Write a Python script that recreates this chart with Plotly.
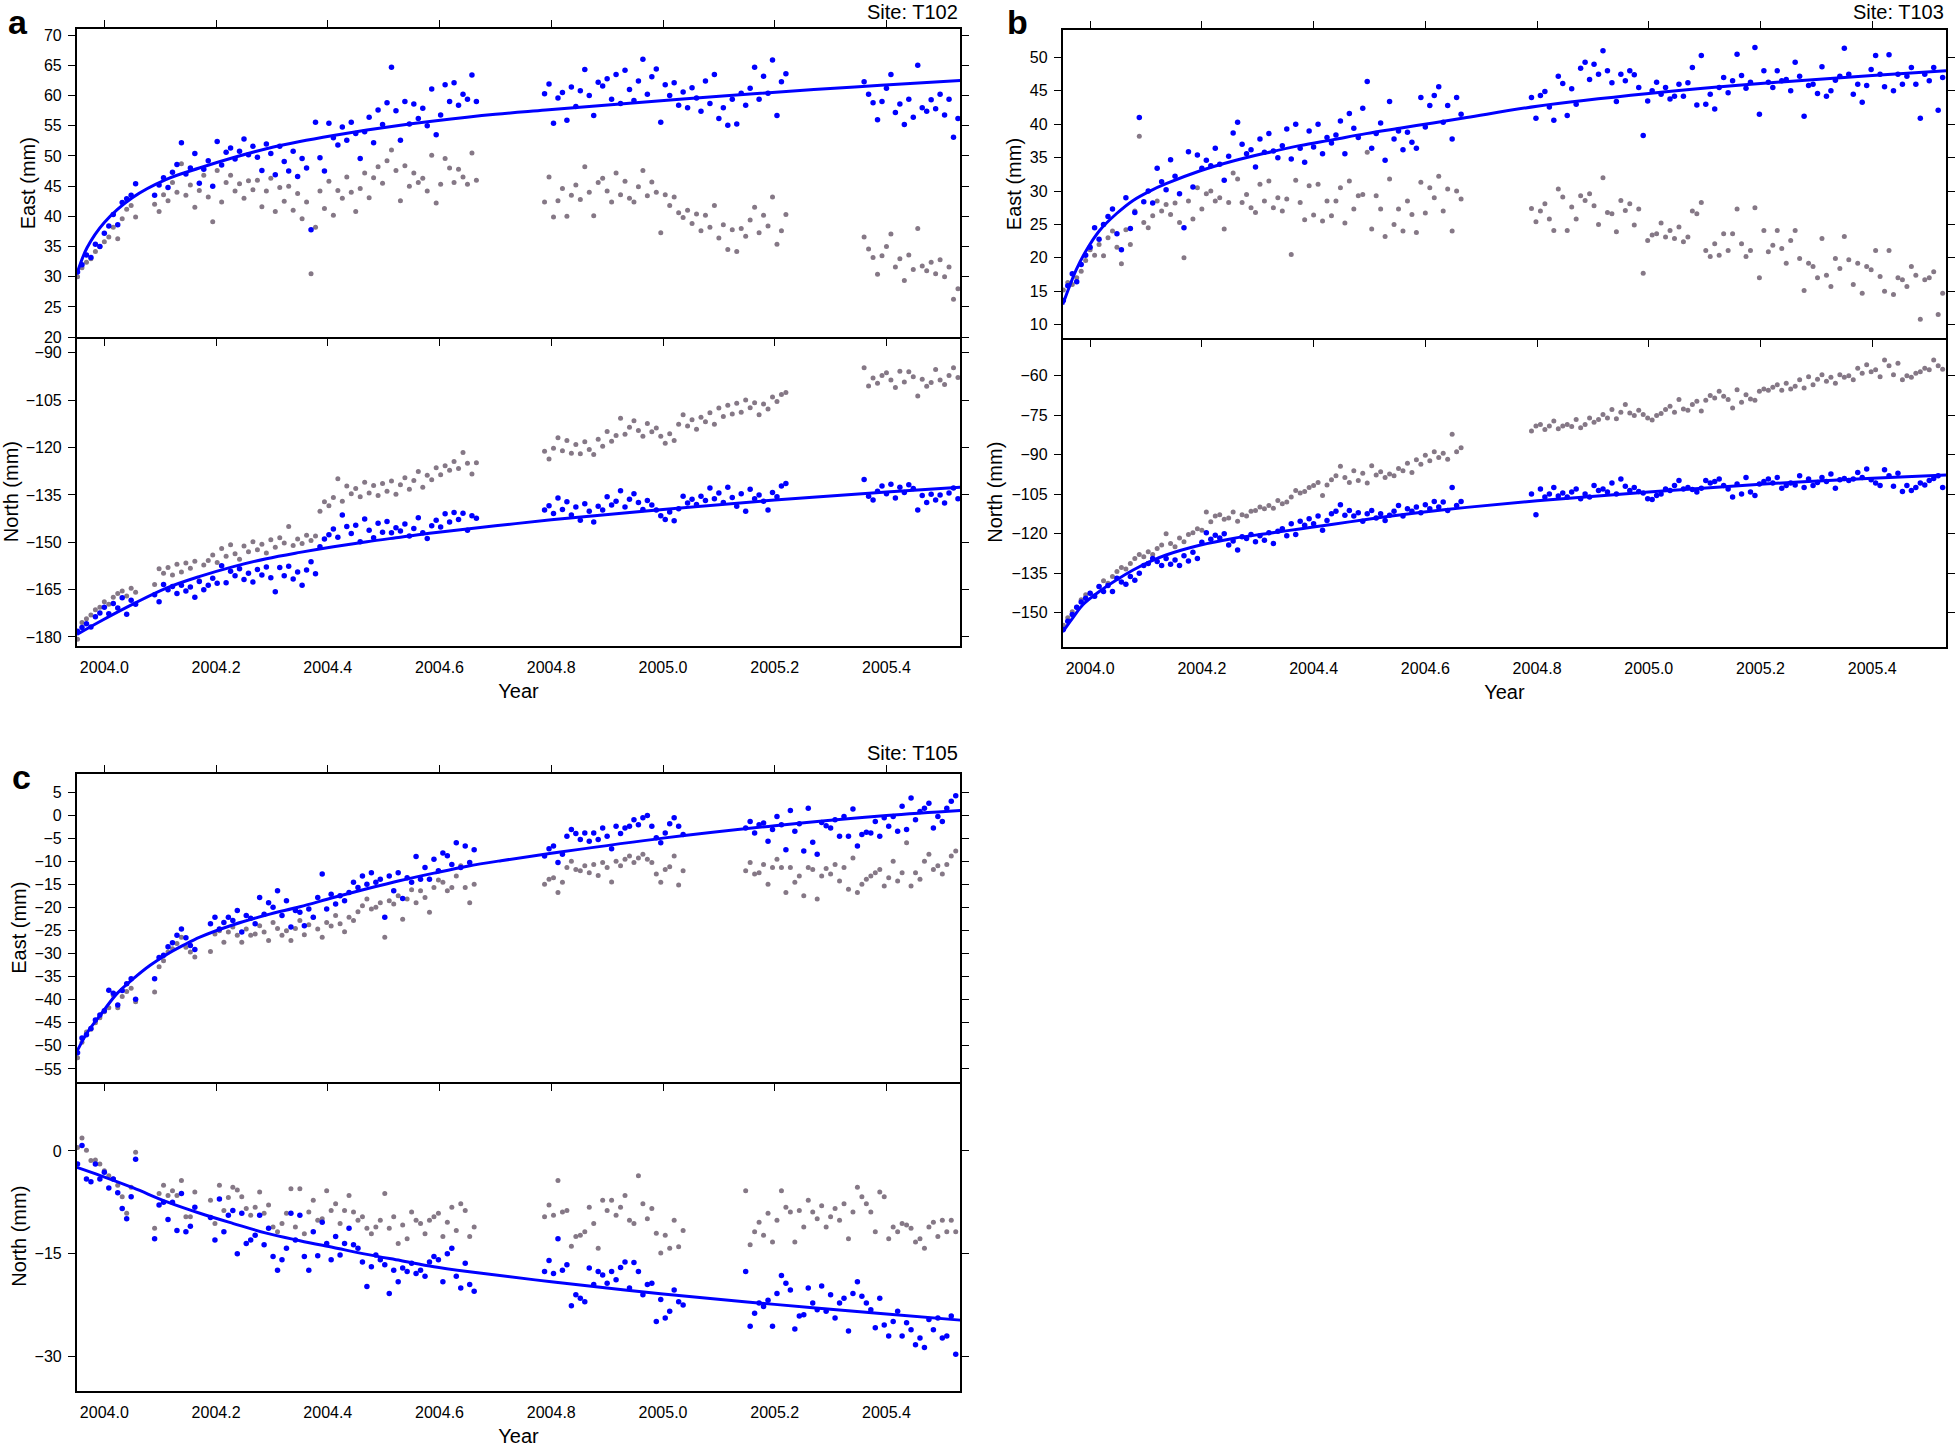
import plotly.graph_objects as go

# ---------------------------------------------------------------- data
STEP = 0.008  # spacing (yr) of the plotted daily-solution epochs inside each segment
X_RANGE = [2003.951, 2005.532]
X_TICKS = [2004.0, 2004.2, 2004.4, 2004.6, 2004.8, 2005.0, 2005.2, 2005.4]
X_TICKTEXT = ["2004.0", "2004.2", "2004.4", "2004.6", "2004.8", "2005.0", "2005.2", "2005.4"]

# ---- Site T102 (panel a)
A_SEG_START = [2003.952, 2004.090, 2004.788, 2005.360]
A_E_BLUE = [
    [30.8, 32.0, 33.6, 33.2, 35.4, 35.0, 37.2, 38.4, 40.3, 38.6, 42.3, 42.9, 43.5, 45.4],
    [43.5, 45.2, 46.4, 44.8, 47.3, 48.6, 52.2, 47.0, 48.0, 50.4, 45.5, 47.8, 49.2, 45.0, 52.4, 48.5, 50.6, 51.3, 49.5, 50.8,
     52.8, 50.2, 51.6, 49.8, 47.6, 52.0, 50.4, 46.9, 51.6, 49.1, 47.5, 50.8, 46.6, 49.6, 48.0, 37.8, 55.6, 49.7, 47.5, 55.4,
     53.0, 51.8, 54.8, 52.6, 55.6, 53.7, 49.6, 54.0, 56.4, 52.2, 57.6, 55.2, 58.8, 64.7, 57.5, 52.6, 59.0, 55.3, 58.6, 56.2,
     57.9, 55.0, 61.1, 53.5, 56.8, 61.8, 59.0, 62.1, 58.4, 60.2, 59.4, 63.4, 59.0],
    [60.3, 61.9, 55.4, 59.6, 60.5, 55.9, 61.4, 58.2, 60.8, 64.3, 60.0, 56.7, 62.2, 61.6, 62.8, 59.4, 63.5, 58.7, 64.2, 61.0,
     59.2, 62.4, 66.0, 60.2, 63.1, 64.4, 55.6, 61.8, 60.0, 62.1, 58.4, 60.6, 58.0, 61.3, 59.6, 57.4, 62.4, 58.7, 63.5, 56.2,
     58.0, 55.1, 59.4, 55.3, 60.4, 58.4, 61.2, 64.7, 59.4, 63.2, 60.4, 65.9, 56.7, 62.3, 63.6],
    [62.3, 60.2, 58.8, 56.0, 59.0, 61.2, 63.5, 57.2, 58.6, 55.2, 59.4, 56.4, 65.0, 58.0, 57.4, 59.3, 57.8, 60.2, 56.8, 59.4,
     53.1, 56.2],
]
A_E_GRAY = [
    [30.0, 31.5, 32.4, 33.0, 34.2, 35.0, 35.8, 36.6, 38.2, 36.3, 39.6, 41.2, 41.8, 39.9],
    [42.0, 40.8, 43.6, 42.6, 45.6, 44.0, 48.7, 43.5, 45.2, 41.5, 44.3, 46.8, 43.2, 39.1, 47.6, 42.4, 45.6, 46.8, 44.2, 45.4,
     43.0, 45.9, 44.4, 46.0, 41.6, 44.2, 46.3, 40.8, 44.8, 42.5, 45.0, 41.0, 43.8, 39.6, 42.4, 30.5, 38.2, 44.2, 41.3, 45.8,
     40.2, 44.3, 43.0, 46.5, 44.0, 40.8, 44.6, 47.2, 43.1, 46.4, 48.2, 45.5, 49.2, 51.0, 47.6, 42.6, 48.4, 45.0, 47.2, 45.6,
     46.3, 44.2, 50.1, 42.2, 45.3, 49.6, 48.0, 45.6, 47.8, 46.5, 45.3, 50.5, 46.0],
    [42.4, 46.5, 39.9, 42.6, 44.6, 40.0, 43.5, 45.2, 42.8, 48.2, 44.0, 40.1, 45.6, 46.3, 44.2, 42.4, 47.2, 43.6, 45.8, 43.0,
     42.4, 44.9, 47.6, 43.4, 45.7, 44.0, 37.3, 43.6, 41.8, 43.2, 40.6, 39.8, 41.0, 38.8, 40.4, 37.6, 40.2, 38.2, 41.8, 36.4,
     38.6, 34.5, 37.8, 34.2, 38.0, 36.7, 39.4, 41.5, 37.3, 40.2, 38.4, 43.2, 35.4, 37.6, 40.3],
    [36.6, 34.6, 33.2, 30.4, 33.5, 35.0, 37.1, 31.6, 33.0, 29.4, 33.6, 31.2, 38.0, 31.8, 31.0, 32.4, 30.5, 32.8, 30.0, 31.6,
     26.3, 28.0],
]
A_N_BLUE = [
    [-178.2, -177.0, -175.8, -176.8, -173.6, -172.4, -170.6, -172.6, -169.4, -170.8, -167.6, -172.8, -168.4, -169.6],
    [-166.6, -168.8, -163.4, -165.0, -164.0, -166.2, -163.6, -165.4, -164.2, -167.4, -162.4, -165.0, -163.6, -161.4, -163.0,
     -157.4, -162.8, -159.2, -160.6, -158.4, -161.8, -159.8, -162.6, -158.6, -160.4, -157.8, -161.2, -165.7, -158.0, -160.6,
     -157.6, -161.6, -159.4, -163.6, -158.8, -156.2, -160.0, -151.4, -149.0, -147.6, -145.8, -148.4, -141.4, -145.0, -147.2,
     -144.6, -149.8, -142.6, -146.2, -148.6, -144.0, -146.8, -143.4, -147.0, -145.4, -146.4, -144.2, -148.0, -145.6, -142.2,
     -147.0, -148.8, -144.8, -143.0, -145.2, -141.0, -143.6, -140.6, -142.8, -140.8, -146.2, -141.6, -142.4],
    [-139.8, -138.4, -140.9, -136.0, -139.6, -137.2, -141.4, -138.8, -143.0, -137.8, -140.2, -143.6, -138.6, -139.8, -135.6,
     -138.2, -137.0, -133.7, -138.8, -136.4, -134.6, -137.4, -139.6, -136.8, -138.2, -139.8, -141.6, -142.8, -140.4, -143.2,
     -139.4, -135.4, -137.6, -136.4, -138.0, -135.4, -136.8, -132.8, -136.2, -134.4, -137.4, -132.6, -135.8, -138.6, -134.6,
     -140.2, -133.2, -136.2, -135.0, -137.0, -139.8, -134.2, -135.6, -132.2, -131.4],
    [-130.1, -135.4, -136.6, -133.8, -132.2, -134.6, -131.6, -136.0, -132.6, -134.2, -131.8, -133.0, -139.8, -135.2, -137.4,
     -134.8, -136.6, -135.0, -137.6, -134.4, -132.8, -136.2],
]
A_N_GRAY = [
    [-180.7, -175.4, -174.2, -173.0, -171.4, -170.6, -168.8, -169.6, -167.4, -166.2, -165.4, -167.0, -164.6, -165.8],
    [-163.4, -158.4, -159.8, -158.0, -160.4, -157.0, -159.4, -156.6, -158.2, -156.0, -162.2, -157.2, -155.8, -154.0, -156.4,
     -152.0, -154.4, -150.8, -153.6, -155.4, -151.2, -153.0, -149.8, -152.4, -150.6, -153.4, -149.2, -151.6, -148.6, -150.2,
     -145.0, -151.0, -149.0, -150.4, -147.8, -149.4, -148.0, -140.2, -137.2, -138.4, -135.8, -129.9, -137.0, -132.2, -134.6,
     -133.0, -135.6, -131.0, -134.4, -132.0, -135.2, -131.4, -133.8, -130.6, -134.8, -131.8, -129.6, -133.2, -130.4, -127.6,
     -132.6, -128.8, -130.2, -126.4, -128.6, -125.8, -127.2, -124.4, -126.6, -121.6, -125.0, -128.4, -124.8],
    [-121.2, -123.6, -120.2, -116.9, -121.0, -117.8, -121.8, -119.0, -122.0, -118.2, -120.6, -122.2, -117.4, -119.6, -114.9,
     -118.0, -116.2, -110.7, -115.8, -113.6, -111.5, -114.6, -116.4, -112.4, -115.0, -113.8, -116.4, -118.6, -115.6, -117.8,
     -112.6, -109.6, -113.2, -111.2, -114.2, -110.4, -111.8, -109.0, -112.6, -107.5, -110.2, -106.6, -109.4, -106.0, -108.8,
     -104.9, -107.4, -105.8, -109.6, -106.2, -107.8, -104.0, -105.4, -103.2, -102.6],
    [-94.7, -100.5, -98.0, -99.6, -97.2, -96.3, -98.6, -101.0, -95.8, -99.2, -96.0, -97.6, -103.7, -98.4, -100.6, -99.4,
     -95.3, -98.6, -100.0, -97.2, -94.7, -97.8],
]
A_E_FIT_T = [2003.951, 2003.969, 2004.0, 2004.05, 2004.11, 2004.17, 2004.23, 2004.29, 2004.35, 2004.41, 2004.47,
             2004.53, 2004.59, 2004.70, 2004.79, 2005.03, 2005.27, 2005.39, 2005.532]
A_E_FIT = [30.5, 34.8, 39.0, 43.1, 46.1, 48.0, 49.7, 51.2, 52.4, 53.4, 54.3, 55.1, 55.8, 56.9, 57.6, 59.4, 61.0, 61.7, 62.5]
A_N_FIT_T = [2003.951, 2003.993, 2004.052, 2004.111, 2004.171, 2004.231, 2004.29, 2004.35, 2004.41, 2004.47, 2004.53,
             2004.59, 2004.70, 2004.80, 2005.0, 2005.2, 2005.4, 2005.532]
A_N_FIT = [-179.2, -175.0, -169.5, -164.5, -160.8, -157.7, -155.2, -153.2, -151.4, -149.8, -148.4, -147.0, -144.8, -142.9,
           -139.6, -136.6, -134.1, -132.6]

# ---- Site T103 (panel b)
B_SEG_START = [2003.952, 2004.790]
B_E_BLUE = [
    [13.6, 15.8, 17.6, 16.4, 19.0, 20.4, 21.6, 24.5, 22.8, 25.0, 26.2, 27.3, 23.6, 21.2, 29.0, 24.4, 26.8, 41.0, 28.4, 30.0,
     28.2, 33.4, 31.4, 30.2, 34.7, 32.2, 29.6, 24.5, 35.9, 30.6, 35.4, 33.4, 34.6, 33.8, 36.4, 34.0, 31.6, 35.2, 38.7, 40.3,
     37.0, 35.6, 36.2, 33.6, 37.8, 35.8, 38.6, 36.0, 35.0, 36.8, 39.3, 34.8, 40.0, 36.4, 34.3, 39.0, 36.6, 40.0, 35.6, 38.0,
     37.2, 38.4, 40.5, 35.6, 41.6, 39.4, 38.0, 42.4, 46.4, 36.4, 38.6, 40.2, 34.6, 43.4, 37.8, 39.0, 36.2, 38.8, 37.3, 36.4,
     44.0, 39.6, 42.8, 44.3, 45.6, 40.3, 42.8, 37.8, 44.0, 41.5],
    [44.0, 40.9, 44.3, 44.9, 42.6, 40.6, 47.2, 46.1, 41.3, 45.3, 43.0, 48.4, 49.3, 46.7, 49.0, 47.5, 51.0, 48.0, 46.2, 43.4,
     47.5, 46.5, 48.0, 47.4, 45.5, 38.3, 43.5, 45.0, 46.3, 44.5, 45.5, 43.8, 44.2, 46.0, 44.2, 46.2, 48.5, 42.9, 50.3, 43.0,
     44.5, 42.3, 45.5, 47.0, 44.7, 46.5, 50.5, 47.3, 45.4, 46.3, 51.5, 41.5, 48.0, 46.3, 45.5, 48.0, 46.5, 46.7, 45.0, 49.3,
     47.2, 41.2, 45.8, 46.0, 44.6, 48.6, 44.2, 45.0, 46.6, 47.2, 51.4, 47.5, 44.5, 46.0, 43.3, 45.8, 48.2, 50.3, 47.5, 45.6,
     50.4, 45.0, 47.5, 46.0, 47.2, 48.5, 46.0, 40.9, 47.5, 46.5, 48.5, 42.1, 47.0],
]
B_E_GRAY = [
    [15.2, 16.3, 16.0, 17.0, 18.0, 19.6, 21.2, 20.4, 22.0, 20.3, 23.0, 24.0, 21.6, 19.1, 24.2, 22.0, 27.0, 38.2, 25.3, 24.5,
     26.3, 28.5, 27.0, 28.0, 26.5, 28.2, 25.3, 20.0, 28.5, 25.8, 30.5, 27.3, 29.6, 30.0, 28.5, 29.0, 24.3, 28.3, 32.7, 31.8,
     28.3, 29.5, 27.5, 26.8, 31.0, 28.5, 31.5, 27.5, 29.0, 27.0, 28.8, 20.5, 31.6, 28.3, 25.7, 30.8, 26.4, 31.0, 25.5, 28.5,
     26.3, 28.5, 30.5, 25.2, 31.5, 27.3, 29.3, 29.5, 35.8, 24.3, 29.3, 27.3, 23.2, 31.8, 25.0, 27.3, 24.0, 28.5, 26.5, 23.8,
     31.3, 26.7, 30.5, 29.0, 32.2, 27.0, 30.3, 24.0, 30.0, 28.8],
    [27.4, 25.4, 27.0, 28.1, 25.8, 24.1, 30.3, 29.1, 24.1, 27.6, 25.8, 29.3, 28.6, 29.6, 27.8, 25.0, 32.0, 26.8, 26.6, 23.9,
     28.6, 27.1, 28.1, 24.9, 27.3, 17.7, 22.6, 23.4, 23.6, 25.2, 23.1, 24.1, 22.9, 24.6, 22.4, 23.1, 27.0, 26.6, 28.3, 21.1,
     20.2, 22.1, 20.4, 23.6, 21.1, 23.6, 27.3, 22.1, 20.2, 21.1, 27.5, 17.0, 24.1, 20.9, 21.9, 24.1, 21.4, 19.2, 22.6, 24.1,
     19.9, 15.1, 19.2, 18.7, 17.0, 22.9, 17.4, 15.7, 19.9, 18.4, 23.2, 19.7, 16.0, 19.2, 14.7, 18.7, 18.2, 21.1, 17.2, 15.0,
     21.1, 14.5, 17.0, 16.7, 15.7, 18.7, 17.4, 10.8, 16.7, 17.0, 17.9, 11.5, 14.7],
]
B_N_BLUE = [
    [-156.4, -153.3, -150.7, -148.0, -146.0, -144.5, -142.6, -143.8, -140.1, -142.0, -139.7, -142.0, -136.9, -138.4, -139.2,
     -136.3, -137.7, -135.0, -132.1, -131.3, -129.4, -130.6, -132.1, -129.4, -131.6, -130.0, -132.1, -128.4, -130.4, -127.1,
     -129.4, -123.3, -119.6, -122.1, -120.6, -121.6, -120.0, -124.3, -122.8, -126.2, -121.2, -121.8, -120.3, -123.1, -120.8,
     -122.5, -119.6, -123.7, -119.1, -118.1, -120.8, -116.2, -120.3, -115.3, -116.8, -114.3, -116.2, -113.3, -118.7, -115.0,
     -112.4, -111.5, -109.0, -113.0, -111.2, -113.3, -112.0, -115.3, -112.4, -111.2, -114.0, -112.4, -115.0, -113.0, -111.5,
     -109.3, -113.3, -110.5, -111.5, -109.9, -112.0, -109.0, -110.5, -107.8, -109.9, -108.0, -111.2, -102.4, -109.3, -107.8],
    [-104.9, -112.8, -103.0, -106.1, -104.9, -102.4, -105.7, -104.5, -106.1, -104.2, -103.0, -106.7, -104.9, -106.1, -101.7,
     -103.6, -103.0, -104.2, -100.7, -104.9, -99.2, -102.0, -103.6, -102.4, -104.0, -104.5, -106.7, -107.0, -105.5, -104.9,
     -103.0, -103.6, -101.7, -99.8, -103.0, -102.4, -103.2, -104.2, -102.7, -99.8, -100.7, -100.2, -99.2, -101.7, -103.0,
     -106.1, -101.1, -104.9, -98.6, -104.2, -105.5, -101.1, -100.2, -99.2, -100.7, -98.6, -102.7, -101.7, -100.7, -101.5,
     -98.0, -102.4, -99.2, -101.7, -100.5, -98.6, -100.2, -97.3, -102.7, -99.5, -99.0, -99.8, -99.2, -96.7, -98.6,
     -95.4, -99.5, -100.7, -101.7, -95.7, -98.0, -102.0, -97.0, -104.0, -101.7, -103.6, -102.4, -100.7, -101.5, -99.8,
     -99.0, -98.0, -102.4],
]
B_N_GRAY = [
    [-154.8, -152.0, -149.7, -148.0, -145.1, -143.2, -142.6, -143.8, -140.1, -137.9, -138.8, -136.3, -134.4, -132.9, -133.4,
     -131.3, -129.4, -127.9, -128.8, -126.9, -127.9, -125.6, -124.3, -120.0, -123.7, -125.0, -121.6, -123.1, -120.3, -119.6,
     -118.1, -118.7, -111.8, -115.5, -113.3, -112.8, -114.5, -114.0, -111.8, -115.3, -112.8, -113.3, -111.5, -111.2, -109.9,
     -110.5, -109.3, -110.3, -107.4, -108.6, -108.0, -106.1, -103.6, -104.5, -104.0, -102.4, -101.7, -100.5, -105.5, -101.5,
     -99.5, -98.0, -94.4, -98.6, -100.5, -96.1, -99.8, -97.0, -100.7, -94.2, -97.7, -96.5, -98.6, -97.3, -98.0,
     -95.2, -96.1, -93.2, -96.7, -91.9, -93.6, -90.2, -92.3, -88.9, -91.0, -89.4, -91.7, -82.2, -88.9, -87.3],
    [-81.0, -79.1, -78.5, -80.4, -79.1, -77.2, -80.1, -79.1, -78.5, -79.3, -76.6, -79.7, -78.5, -76.0, -77.6, -76.6, -74.7,
     -76.0, -72.8, -76.3, -73.8, -70.9, -74.1, -75.1, -73.1, -74.7, -76.0, -76.8, -75.1, -74.3, -72.8, -71.6, -73.8, -69.0,
     -72.6, -73.1, -70.9, -69.7, -73.4, -69.3, -67.5, -68.4, -65.9, -67.8, -69.0, -72.2, -65.3, -70.0, -67.2, -68.8, -69.3,
     -65.9, -65.0, -65.5, -64.3, -63.4, -65.5, -62.8, -65.0, -64.0, -61.5, -64.6, -60.3, -63.4, -61.3, -59.6, -62.1, -60.5,
     -62.8, -59.6, -60.5, -60.0, -61.5, -57.1, -59.0, -55.8, -58.4, -57.7, -60.3, -54.0, -56.2, -59.6, -55.2, -61.5, -60.0,
     -60.5, -59.0, -58.4, -57.1, -57.7, -54.0, -56.2, -57.5],
]
B_E_FIT_T = [2003.951, 2003.963, 2003.975, 2003.993, 2004.017, 2004.047, 2004.077, 2004.107, 2004.136, 2004.196, 2004.256,
             2004.315, 2004.375, 2004.435, 2004.494, 2004.554, 2004.614, 2004.674, 2004.8, 2005.0, 2005.2, 2005.4, 2005.532]
B_E_FIT = [13.0, 15.7, 18.2, 21.1, 24.1, 26.6, 28.6, 30.0, 31.1, 33.0, 34.5, 35.7, 36.8, 37.7, 38.6, 39.4, 40.2, 41.0,
           42.7, 44.6, 46.1, 47.3, 48.0]
B_N_FIT_T = [2003.951, 2003.969, 2003.987, 2004.017, 2004.047, 2004.077, 2004.107, 2004.136, 2004.196, 2004.256, 2004.315,
             2004.375, 2004.435, 2004.494, 2004.554, 2004.614, 2004.674, 2004.8, 2005.0, 2005.2, 2005.4, 2005.532]
B_N_FIT = [-157.3, -152.0, -147.0, -141.9, -137.6, -133.8, -130.6, -128.1, -124.4, -121.8, -120.0, -118.2, -116.4, -114.6,
           -112.9, -111.4, -110.0, -107.5, -104.2, -101.2, -98.9, -97.7]

# ---- Site T105 (panel c)
C_SEG_START = [2003.952, 2004.090, 2004.190, 2004.788, 2005.148]
C_E_BLUE = [
    [-51.5, -48.3, -47.6, -46.2, -44.4, -43.3, -42.4, -37.9, -38.6, -41.1, -38.0, -36.5, -35.4, -39.9],
    [-35.4, -30.8, -30.3, -28.5, -27.6, -26.0, -24.6, -26.5, -28.2, -29.1],
    [-23.5, -22.1, -24.6, -23.2, -22.1, -22.8, -20.6, -25.3, -21.7, -22.3, -23.5, -17.8, -21.4, -18.9, -19.9, -16.3, -21.7,
     -18.5, -24.2, -20.6, -21.0, -23.9, -20.3, -22.1, -17.8, -12.7, -20.3, -17.1, -19.2, -17.4, -18.5, -16.7, -14.5, -15.6,
     -13.1, -14.9, -12.4, -14.5, -13.8, -22.1, -13.1, -16.3, -12.4, -18.0, -13.5, -14.5, -8.9, -13.8, -11.3, -13.8, -9.5,
     -12.0, -8.1, -8.7, -10.6, -5.9, -11.3, -6.6, -10.2, -7.4],
    [-8.8, -7.2, -6.6, -10.2, -8.4, -4.5, -3.0, -3.9, -5.2, -3.8, -5.6, -3.8, -5.2, -2.7, -4.5, -7.2, -2.3, -3.9, -2.7,
     -2.3, -0.9, -2.0, -0.5, 0.0, -2.3, -4.8, -5.9, -3.8, -1.8, -0.5, -2.3, -4.1],
    [-2.7, -1.3, -3.8, -2.0, -1.6, -5.6, -3.0, -0.2, -2.0, -7.4, 1.1, -3.4, -1.8, -7.7, 1.6, -5.8, -8.4, -1.5, -2.2, -2.7,
     -0.9, -4.5, -0.2, -4.5, 1.4, -6.6, -4.1, -3.6, -3.8, -1.3, -4.5, -0.5, -2.3, -0.2, -3.4, 2.0, -3.0, 3.8, -0.9, 0.9,
     1.6, 2.7, -2.7, -0.2, -1.3, 1.6, 3.1, 4.3],
]
C_E_GRAY = [
    [-52.6, -49.2, -47.0, -46.4, -45.0, -43.9, -42.6, -41.7, -39.0, -41.7, -39.3, -38.2, -37.5, -40.4],
    [-38.3, -32.8, -31.5, -29.6, -28.9, -27.8, -26.4, -28.6, -29.6, -30.7],
    [-29.5, -25.7, -25.0, -27.5, -25.3, -24.2, -26.0, -27.5, -24.6, -26.0, -25.7, -23.9, -25.3, -27.1, -23.2, -24.5, -26.0,
     -25.0, -27.1, -24.5, -22.8, -25.9, -23.7, -22.1, -24.6, -26.4, -23.2, -24.0, -21.7, -23.5, -25.2, -22.1, -22.8, -20.9,
     -19.6, -18.1, -20.3, -19.9, -18.9, -26.4, -18.5, -19.2, -17.4, -22.5, -18.1, -16.1, -18.9, -16.3, -17.8, -21.0, -15.6,
     -14.0, -14.5, -16.3, -15.6, -13.1, -10.9, -15.6, -18.9, -14.9],
    [-14.9, -13.8, -13.5, -16.7, -14.5, -11.3, -9.9, -11.7, -12.0, -10.9, -12.4, -10.6, -13.0, -10.2, -11.3, -14.4, -9.9,
     -10.9, -9.5, -8.8, -10.2, -9.2, -8.4, -9.5, -10.2, -12.7, -14.5, -11.7, -11.1, -8.8, -15.1, -12.0],
    [-12.0, -10.2, -12.7, -12.4, -10.6, -14.9, -11.3, -9.5, -11.3, -16.7, -11.3, -14.5, -13.1, -17.4, -11.3, -11.7, -18.1,
     -13.1, -11.5, -12.7, -10.6, -14.2, -11.3, -16.0, -9.2, -16.7, -14.9, -13.8, -13.1, -12.4, -11.7, -15.3, -13.5, -9.9,
     -14.2, -12.4, -5.9, -15.3, -12.4, -13.8, -9.9, -8.4, -11.7, -10.9, -12.7, -10.6, -8.8, -7.7],
]
C_N_BLUE = [
    [-1.9, 0.8, -4.1, -4.5, -1.9, -4.1, -3.1, -5.4, -4.1, -6.1, -8.4, -9.9, -6.7, -1.2],
    [-12.8, -7.9, -7.5, -10.0, -7.5, -11.6, -6.2, -11.8, -11.0, -8.2],
    [-9.7, -13.0, -7.0, -11.8, -9.4, -8.7, -15.0, -9.1, -13.5, -13.0, -12.3, -9.4, -13.7, -11.3, -15.4, -17.4, -15.9, -14.2,
     -9.1, -13.0, -9.4, -15.4, -17.4, -11.8, -15.3, -10.4, -13.5, -15.9, -12.5, -15.2, -13.5, -11.3, -13.7, -14.2, -16.2,
     -19.8, -16.9, -15.2, -15.9, -16.6, -20.8, -17.4, -19.1, -17.1, -17.6, -16.4, -17.9, -17.4, -18.3, -16.2, -15.4, -15.9,
     -19.1, -15.0, -14.2, -18.3, -20.0, -16.4, -19.5, -20.5],
    [-17.6, -16.0, -17.9, -12.8, -17.4, -16.6, -22.6, -21.0, -21.5, -22.0, -17.1, -19.5, -17.6, -18.1, -19.3, -17.6, -18.8,
     -17.0, -16.2, -20.0, -16.3, -17.6, -21.0, -19.5, -19.3, -24.9, -21.7, -24.4, -23.4, -20.3, -22.0, -22.5],
    [-17.6, -25.6, -23.7, -22.2, -22.7, -21.8, -25.6, -20.8, -18.2, -19.3, -20.3, -26.0, -24.1, -23.9, -20.0, -22.2, -23.2,
     -19.7, -23.4, -21.0, -24.4, -22.2, -21.5, -26.3, -20.8, -19.1, -21.2, -22.2, -23.2, -25.8, -21.5, -25.4, -27.0, -24.9,
     -23.4, -27.0, -25.1, -26.1, -28.3, -27.3, -28.7, -24.6, -26.1, -24.4, -27.3, -27.0, -24.1, -29.7],
]
C_N_GRAY = [
    [0.5, 1.9, 0.1, -1.4, -1.3, -1.9, -2.9, -3.6, -4.1, -5.0, -6.7, -9.1, -5.3, -0.2],
    [-11.3, -6.2, -5.0, -6.5, -5.8, -6.5, -4.3, -9.6, -9.6, -6.0],
    [-7.2, -10.6, -5.0, -8.7, -6.8, -5.3, -5.7, -6.7, -8.4, -9.4, -8.2, -6.0, -9.1, -7.9, -11.1, -11.8, -10.6, -9.1, -5.5,
     -11.1, -5.5, -12.1, -8.9, -7.2, -10.1, -9.9, -5.8, -8.7, -7.7, -10.6, -8.7, -6.5, -8.9, -10.1, -9.6, -11.3, -12.1,
     -11.1, -10.1, -6.2, -11.3, -9.6, -13.5, -10.8, -12.8, -8.9, -10.1, -10.6, -12.1, -10.1, -9.6, -9.1, -12.5, -10.4, -8.2,
     -11.6, -7.7, -8.7, -12.5, -11.1],
    [-9.6, -7.9, -9.4, -4.3, -8.9, -8.7, -13.9, -12.5, -12.3, -11.8, -8.2, -10.6, -14.2, -7.2, -8.7, -7.2, -9.4, -8.2, -6.5,
     -10.1, -10.6, -3.6, -7.7, -9.9, -8.4, -12.0, -14.9, -12.3, -14.2, -10.1, -14.0, -11.6],
    [-5.8, -13.7, -11.8, -10.4, -12.3, -9.1, -13.3, -10.1, -5.8, -8.2, -8.9, -13.3, -8.7, -11.1, -7.2, -8.9, -9.9, -8.0,
     -11.1, -9.6, -8.4, -10.1, -7.7, -12.8, -8.9, -5.3, -6.7, -7.7, -8.9, -11.8, -6.0, -6.7, -12.8, -11.1, -11.8, -10.6,
     -10.8, -11.3, -13.3, -12.8, -14.2, -11.1, -10.4, -12.5, -10.1, -11.8, -10.1, -11.8],
]
C_E_FIT_T = [2003.951, 2003.969, 2003.993, 2004.023, 2004.052, 2004.082, 2004.111, 2004.141, 2004.171, 2004.231, 2004.29,
             2004.35, 2004.41, 2004.47, 2004.53, 2004.59, 2004.65, 2004.71, 2004.8, 2005.0, 2005.2, 2005.4, 2005.532]
C_E_FIT = [-51.2, -47.2, -43.3, -38.6, -35.4, -32.5, -30.2, -28.2, -26.4, -23.7, -21.6, -19.8, -17.8, -15.9, -14.1,
           -12.5, -11.0, -9.8, -8.2, -4.9, -2.2, 0.0, 1.1]
C_N_FIT_T = [2003.951, 2003.993, 2004.052, 2004.111, 2004.171, 2004.231, 2004.29, 2004.35, 2004.41, 2004.47, 2004.53,
             2004.59, 2004.65, 2004.8, 2005.0, 2005.2, 2005.4, 2005.532]
C_N_FIT = [-2.4, -3.6, -5.4, -7.4, -9.1, -10.6, -12.0, -13.1, -14.1, -15.1, -16.0, -16.9, -17.6, -19.1, -20.9, -22.4,
           -23.8, -24.7]

# ---------------------------------------------------------------- style / geometry
W, H = 1955, 1451
FONT = "Liberation Sans, Arial, Helvetica, sans-serif"
BLUE = "#0000ff"
GRAY = "#857886"

PANELS = [
    dict(letter="a", site="Site: T102", starts=A_SEG_START,
         e_blue=A_E_BLUE, e_gray=A_E_GRAY, n_blue=A_N_BLUE, n_gray=A_N_GRAY,
         e_fit=(A_E_FIT_T, A_E_FIT), n_fit=(A_N_FIT_T, A_N_FIT),
         px=(77, 960.7), py_up=(27.3, 337.7), py_lo=(337.7, 648.3),
         e_range=[19.97, 71.0], n_range=[-182.8, -85.1],
         letter_xy=(18, 20), site_y=10),
    dict(letter="b", site="Site: T103", starts=B_SEG_START,
         e_blue=B_E_BLUE, e_gray=B_E_GRAY, n_blue=B_N_BLUE, n_gray=B_N_GRAY,
         e_fit=(B_E_FIT_T, B_E_FIT), n_fit=(B_N_FIT_T, B_N_FIT),
         px=(1063.3, 1947), py_up=(28.3, 338.3), py_lo=(338.3, 649),
         e_range=[8.0, 54.1], n_range=[-162.9, -45.6],
         letter_xy=(1018, 20), site_y=10),
    dict(letter="c", site="Site: T105", starts=C_SEG_START,
         e_blue=C_E_BLUE, e_gray=C_E_GRAY, n_blue=C_N_BLUE, n_gray=C_N_GRAY,
         e_fit=(C_E_FIT_T, C_E_FIT), n_fit=(C_N_FIT_T, C_N_FIT),
         px=(77, 960.7), py_up=(777, 1087.3), py_lo=(1087.3, 1398.3),
         e_range=[-57.8, 9.1], n_range=[-35.0, 10.1],
         letter_xy=(22, 780), site_y=756.5),
]


def seg_xy(starts, segs):
    xs, ys = [], []
    for t0, vals in zip(starts, segs):
        for i, v in enumerate(vals):
            xs.append(round(t0 + STEP * i, 4))
            ys.append(v)
    return xs, ys


def ax_name(kind, n):
    return kind + ("axis" if n == 1 else "axis%d" % n)


def ref(kind, n):
    return kind if n == 1 else "%s%d" % (kind, n)


fig = go.Figure()
layout = {}
annotations = []

tick_font = dict(family=FONT, size=16, color="black")
title_font = dict(family=FONT, size=20, color="black")

for p, P in enumerate(PANELS):
    up, lo, ov = 2 * p + 1, 2 * p + 2, 7 + p
    dx = [P["px"][0] / W, P["px"][1] / W]
    dyu = [1 - P["py_up"][1] / H, 1 - P["py_up"][0] / H]
    dyl = [1 - P["py_lo"][1] / H, 1 - P["py_lo"][0] / H]

    common_x = dict(range=X_RANGE, tickvals=X_TICKS, showgrid=False, zeroline=False,
                    linecolor="black", linewidth=2, tickcolor="black", tickwidth=1.2)
    layout[ax_name("x", up)] = dict(common_x, domain=dx, anchor=ref("y", up), side="bottom",
                                    showline=True, mirror="ticks", ticks="outside", ticklen=7,
                                    showticklabels=False)
    layout[ax_name("x", lo)] = dict(common_x, domain=dx, anchor=ref("y", lo), side="bottom",
                                    showline=True, mirror=False, ticks="", ticktext=X_TICKTEXT,
                                    showticklabels=True, tickfont=tick_font, ticklabelstandoff=6,
                                    title=dict(text="Year", font=title_font, standoff=9))
    layout[ax_name("x", ov)] = dict(common_x, overlaying=ref("x", lo), anchor=ref("y", lo), side="top",
                                    showline=False, ticks="outside", ticklen=7, showticklabels=False)

    common_y = dict(showgrid=False, zeroline=False, showline=True, linecolor="black", linewidth=2,
                    mirror="ticks", ticks="outside", ticklen=7, tickcolor="black", tickwidth=1.2,
                    tickfont=tick_font, ticklabelstandoff=3, side="left")
    layout[ax_name("y", up)] = dict(common_y, domain=dyu, anchor=ref("x", up), range=P["e_range"],
                                    tick0=0, dtick=5,
                                    title=dict(text="East (mm)", font=title_font, standoff=3))
    layout[ax_name("y", lo)] = dict(common_y, domain=dyl, anchor=ref("x", lo), range=P["n_range"],
                                    tick0=0, dtick=15,
                                    title=dict(text="North (mm)", font=title_font, standoff=3))

    for comp, ax_up in (("e", True), ("n", False)):
        xa = ref("x", up) if ax_up else ref("x", lo)
        ya = ref("y", up) if ax_up else ref("y", lo)
        gx, gy = seg_xy(P["starts"], P[comp + "_gray"])
        bx, by = seg_xy(P["starts"], P[comp + "_blue"])
        fig.add_trace(go.Scatter(x=gx, y=gy, mode="markers", xaxis=xa, yaxis=ya,
                                 marker=dict(color=GRAY, size=5, line=dict(width=0)),
                                 showlegend=False, hoverinfo="skip"))
        fig.add_trace(go.Scatter(x=bx, y=by, mode="markers", xaxis=xa, yaxis=ya,
                                 marker=dict(color=BLUE, size=5.5, line=dict(width=0)),
                                 showlegend=False, hoverinfo="skip"))
        ft, fv = P[comp + "_fit"]
        fig.add_trace(go.Scatter(x=ft, y=fv, mode="lines", xaxis=xa, yaxis=ya,
                                 line=dict(color=BLUE, width=3, shape="spline", smoothing=1.0),
                                 showlegend=False, hoverinfo="skip"))

    annotations.append(dict(text="<b>%s</b>" % P["letter"], xref="paper", yref="paper",
                            x=P["letter_xy"][0] / W, y=1 - P["letter_xy"][1] / H,
                            xanchor="center", yanchor="middle", showarrow=False,
                            font=dict(family=FONT, size=34, color="black")))
    annotations.append(dict(text=P["site"], xref="paper", yref="paper",
                            x=P["px"][1] / W, y=1 - P["site_y"] / H,
                            xanchor="right", yanchor="middle", showarrow=False,
                            font=dict(family=FONT, size=20, color="black")))

fig.update_layout(**layout)
fig.update_layout(width=W, height=H, margin=dict(l=0, r=0, t=0, b=0),
                  paper_bgcolor="white", plot_bgcolor="white",
                  font=dict(family=FONT, color="black"),
                  annotations=annotations, showlegend=False)

fig.write_html("out.html", config={"displayModeBar": False},
               post_script="document.body.style.margin='0px';document.body.style.overflow='hidden';")
